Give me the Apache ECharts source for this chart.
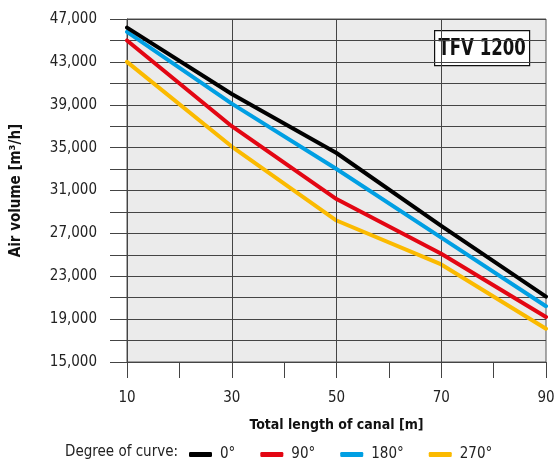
<!DOCTYPE html>
<html><head><meta charset="utf-8">
<script src="https://cdn.jsdelivr.net/npm/echarts@6/dist/echarts.min.js"></script>
<style>html,body{margin:0;padding:0;background:#fff}#c{width:560px;height:471px}</style>
</head><body><div id="c"></div>
<script>
const lengths = [10, 30, 50, 70, 90];
const deg0   = [46200, 40000, 34500, 27700, 21100];
const deg90  = [45000, 37000, 30200, 25100, 19200];
const deg180 = [45800, 39100, 33000, 26600, 20200];
const deg270 = [43000, 35100, 28200, 24100, 18100];
const seriesNames = ['0°', '90°', '180°', '270°'];
const seriesColors = ['#000000', '#e30613', '#009fe3', '#fbba00'];
const xLabels = [10, 30, 50, 70, 90];
const vLines = [30, 50, 70];
const yLabelStart = 15000, yLabelStep = 4000;

const FONT = "'DejaVu Sans Condensed','Liberation Sans Narrow','Roboto Condensed',sans-serif";
const allData = [deg0, deg90, deg180, deg270];
const pairs = arr => lengths.map((x, i) => [x, arr[i]]);

const series = [];
for (let i = allData.length - 1; i >= 0; i--) {
  series.push({
    name: seriesNames[i], type: 'line', data: pairs(allData[i]),
    showSymbol: false, symbol: 'none', smooth: false,
    lineStyle: { color: seriesColors[i], width: 4, cap: 'round', join: 'round' },
    itemStyle: { color: seriesColors[i] },
    z: 3 + (allData.length - i)
  });
}
series.push({
  type: 'line', data: [], silent: true,
  markLine: {
    silent: true, symbol: 'none', label: { show: false },
    lineStyle: { color: '#444', width: 1, type: 'solid' },
    data: vLines.map(v => ({ xAxis: v }))
  }, z: 1
});

const chart = echarts.init(document.getElementById('c'), null, { renderer: 'canvas' });
chart.setOption({
  animation: false,
  backgroundColor: '#fff',
  textStyle: { fontFamily: FONT },
  grid: {
    left: 127, right: 14, top: 19, bottom: 109, show: true,
    containLabel: false, outerBoundsMode: 'none',
    backgroundColor: '#ebebeb', borderColor: '#555', borderWidth: 1
  },
  legend: {
    left: 184, top: 442, itemWidth: 23, itemHeight: 5, itemGap: 25,
    icon: 'roundRect',
    data: seriesNames,
    textStyle: { fontFamily: FONT, fontSize: 15, color: '#222', padding: [0, 0, 0, 3] }
  },
  graphic: [{
    type: 'text', left: 65, top: 445,
    style: { text: 'Degree of curve:', font: '15px ' + FONT, fill: '#222' }
  }, {
    type: 'group', left: 434, top: 30, z: 100,
    children: [{
      type: 'rect', shape: { x: 0, y: 0, width: 95, height: 35 },
      style: { fill: '#fff', stroke: '#111', lineWidth: 1.2 }
    }, {
      type: 'text', x: 47.5, y: 18, scaleX: 0.8,
      style: { text: 'TFV 1200', font: 'bold 23px ' + FONT, fill: '#111', align: 'center', verticalAlign: 'middle' }
    }]
  }],
  xAxis: {
    type: 'value', min: 10, max: 90, interval: 10,
    name: 'Total length of canal [m]', nameLocation: 'middle', nameGap: 56,
    nameTextStyle: { fontFamily: FONT, fontSize: 14, fontWeight: 'bold', color: '#111' },
    axisLine: { show: true, lineStyle: { color: '#444', width: 1 } },
    axisTick: { show: true, length: 16, lineStyle: { color: '#444', width: 1 } },
    axisLabel: {
      margin: 29, fontSize: 15, color: '#222', fontFamily: FONT,
      formatter: v => xLabels.includes(v) ? String(v) : ''
    },
    splitLine: { show: false }
  },
  yAxis: {
    type: 'value', min: 15000, max: 47000, interval: 2000,
    name: 'Air volume [m³/h]', nameLocation: 'middle', nameGap: 103, nameRotate: 90,
    nameTextStyle: { fontFamily: FONT, fontSize: 15, fontWeight: 'bold', color: '#111' },
    axisLine: { show: true, lineStyle: { color: '#444', width: 1 } },
    axisTick: { show: true, length: 17, lineStyle: { color: '#444', width: 1 } },
    axisLabel: {
      margin: 30, fontSize: 15, color: '#222', fontFamily: FONT,
      formatter: v => ((v - yLabelStart) % yLabelStep === 0) ? v.toLocaleString('en-US') : ''
    },
    splitLine: { show: true, lineStyle: { color: '#444', width: 1 } }
  },
  series: series
});
</script></body></html>
